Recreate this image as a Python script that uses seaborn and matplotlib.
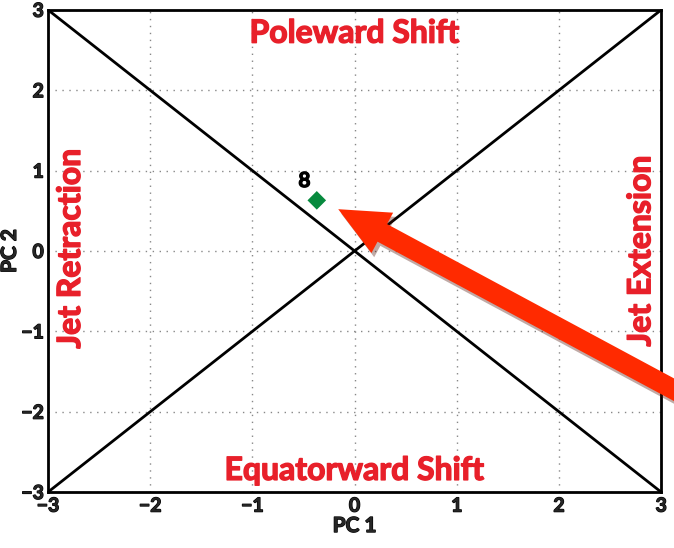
import matplotlib
matplotlib.use("Agg")
import matplotlib.pyplot as plt
import matplotlib.patheffects as pe
import seaborn as sns
import pandas as pd

# data
line_x = [-3, 3]
diag_up = [-3, 3]
diag_down = [3, -3]
pt_x = [-0.37]
pt_y = [0.63]
pt_label = ["8"]
arrow_tip = (-0.16, 0.52)
arrow_tail = (3.35, -1.88)
ticks = [-3, -2, -1, 0, 1, 2, 3]

sns.set_theme(style="white")
plt.rcParams['font.family'] = ['Lato', 'DejaVu Sans']

fig = plt.figure(figsize=(6.74, 5.48), dpi=100)
ax = fig.add_axes([0.0712, 0.102, 0.9098, 0.880])

thick_k = [pe.withStroke(linewidth=0.9, foreground="black")]

df1 = pd.DataFrame({"x": line_x, "y": diag_up})
df2 = pd.DataFrame({"x": line_x, "y": diag_down})
sns.lineplot(data=df1, x="x", y="y", ax=ax, color="black", lw=2)
sns.lineplot(data=df2, x="x", y="y", ax=ax, color="black", lw=2)
sns.scatterplot(x=pt_x, y=pt_y, ax=ax, marker="D", s=90, color="#078a3e", edgecolor="none", zorder=5)
for x, y, t in zip(pt_x, pt_y, pt_label):
    ax.text(x - 0.12, y + 0.24, t, ha="center", va="center", fontsize=15, fontweight="bold",
            color="black", path_effects=thick_k)

ax.set_xlim(-3, 3)
ax.set_ylim(-3, 3)
ax.set_xticks(ticks)
ax.set_yticks(ticks)
ax.set_xticklabels([str(t).replace("-", "\u2212") for t in ticks], fontsize=14, fontweight="bold")
ax.set_yticklabels([str(t).replace("-", "\u2212") for t in ticks], fontsize=14, fontweight="bold")
for lab in ax.get_xticklabels() + ax.get_yticklabels():
    lab.set_path_effects(thick_k)
ax.tick_params(axis="x", length=0, pad=4)
ax.tick_params(axis="y", length=0, pad=3)
ax.grid(True, linestyle=(0, (1, 4)), color="#888888", lw=1)
for s in ax.spines.values():
    s.set_color("black")
    s.set_linewidth(2)
ax.set_xlabel("PC 1", fontsize=15, fontweight="bold", labelpad=1, path_effects=thick_k)
ax.set_ylabel("PC 2", fontsize=15, fontweight="bold", labelpad=1, path_effects=thick_k)

red = "#e8202a"
thick_r = [pe.withStroke(linewidth=1.0, foreground=red)]
fs = 23
ax.text(0, 2.71, "Poleward Shift", ha="center", va="center", fontsize=fs, fontweight="bold", color=red, path_effects=thick_r)
ax.text(0, -2.73, "Equatorward Shift", ha="center", va="center", fontsize=fs, fontweight="bold", color=red, path_effects=thick_r)
ax.text(-2.78, 0.03, "Jet Retraction", ha="center", va="center", rotation=90, fontsize=fs, fontweight="bold", color=red, path_effects=thick_r)
ax.text(2.8, 0.0, "Jet Extension", ha="center", va="center", rotation=90, fontsize=fs, fontweight="bold", color=red, path_effects=thick_r)

ax.annotate("", xy=arrow_tip, xytext=arrow_tail, annotation_clip=False,
            arrowprops=dict(arrowstyle="simple,head_length=1.8,head_width=1.65,tail_width=0.72",
                            mutation_scale=20, color="#ff2a00", lw=0, shrinkA=0, shrinkB=0,
                            path_effects=[pe.SimplePatchShadow(offset=(2, -3), alpha=0.35), pe.Normal()]),
            zorder=6)

fig.savefig("out.png", dpi=100)
